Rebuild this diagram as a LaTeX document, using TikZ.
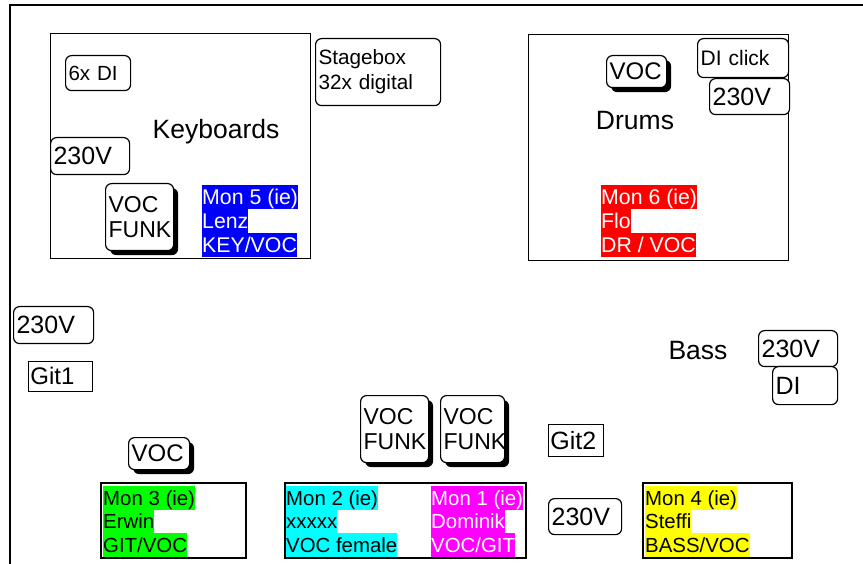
\documentclass[tikz,border=0pt]{standalone}
\usepackage{fontspec}
\setmainfont{Liberation Sans}
\usetikzlibrary{shadows}
\definecolor{cy}{RGB}{0,255,255}
\definecolor{mg}{RGB}{255,0,255}
\definecolor{gr}{RGB}{0,255,0}
\definecolor{ye}{RGB}{255,255,0}
\definecolor{bl}{RGB}{0,0,255}
\definecolor{rd}{RGB}{255,0,0}
\newcommand{\fsz}[1]{\fontsize{#1}{25}\selectfont}
\tikzset{
  rb/.style={draw, rounded corners=6pt, line width=1.2pt, inner xsep=3pt, inner ysep=0pt, anchor=north west, align=left, fill=white},
  sq/.style={draw, line width=0.7pt, inner xsep=2pt, inner ysep=0pt, anchor=north west, align=left},
  sh/.style={drop shadow={shadow xshift=4.5pt, shadow yshift=-4.5pt, fill=black, opacity=1}},
  area/.style={draw, line width=1.3pt, anchor=north west, inner sep=0pt},
  mon/.style={draw, line width=1.6pt, anchor=north west, inner sep=0pt},
  hl/.style={inner sep=0pt, anchor=north west, text height=19pt, text depth=5pt, font=\fsz{21.3}},
  hlb/.style={hl, font=\fsz{20.4}},
  lbl/.style={font=\fsz{26.5}},
}
\begin{document}
\begin{tikzpicture}[x=1pt, y=-1pt]
\useasboundingbox (0,0) rectangle (863,564);
% outer frame
\coordinate (fa) at (10,564);
\coordinate (fb) at (10,5);
\coordinate (fc) at (863,5);
\draw[line width=1.3pt] (fa) -- (fb) -- (fc);

% Keyboards area
\node[area, minimum width=260pt, minimum height=225pt] (kbd) at (50,33) {};
\node[lbl] (kbdl) at (216,132) {Keyboards};
\node[rb, text width=59pt, minimum height=35pt, font=\fsz{20.5}] (kdi) at (65,55) {6x DI};
\node[rb, text width=73pt, minimum height=37pt, font=\fsz{25}] (kpow) at (50,137) {230V};
\node[rb, sh, text width=62pt, minimum height=67pt, font=\fsz{23}] (kvoc) at (105,183) {VOC\\FUNK};
\node[hl, fill=bl, text=white] (m5a) at (202,185) {Mon 5 (ie)};
\node[hl, fill=bl, text=white] (m5b) at (202,209) {Lenz};
\node[hl, fill=bl, text=white] (m5c) at (202,233) {KEY/VOC};

% Stagebox
\node[rb, text width=119pt, minimum height=67pt, font=\fsz{20.7}] (stage) at (315,38) {Stagebox\\32x digital};

% Drums area
\node[area, minimum width=260pt, minimum height=226pt] (drm) at (528,34) {};
\node[lbl] (drml) at (635,121) {Drums};
\node[rb, sh, text width=54pt, minimum height=32pt, font=\fsz{24}] (dvoc) at (606,55) {VOC};
\node[rb, text width=85pt, minimum height=39pt, font=\fsz{21}] (ddi) at (697,38) {DI click};
\node[rb, text width=74pt, minimum height=36pt, font=\fsz{25}] (dpow) at (709,78) {230V};
\node[hl, fill=rd, text=white] (m6a) at (601,185) {Mon 6 (ie)};
\node[hl, fill=rd, text=white] (m6b) at (601,209) {Flo};
\node[hl, fill=rd, text=white] (m6c) at (601,233) {DR / VOC};

% left side
\node[rb, text width=74pt, minimum height=37pt, font=\fsz{25}] (lpow) at (13,306) {230V};
\node[sq, text width=60pt, minimum height=30pt, font=\fsz{24}] (git1) at (28,361) {Git1};
\node[rb, sh, text width=55pt, minimum height=32pt, font=\fsz{24}] (lvoc) at (128,437) {VOC};

% centre
\node[rb, sh, text width=62pt, minimum height=67pt, font=\fsz{23}] (cv1) at (360,395) {VOC\\FUNK};
\node[rb, sh, text width=58pt, minimum height=67pt, font=\fsz{23}] (cv2) at (440,395) {VOC\\FUNK};
\node[sq, text width=51pt, minimum height=32pt, font=\fsz{25}] (git2) at (548,424) {Git2};
\node[rb, text width=67pt, minimum height=36pt, font=\fsz{25}] (cpow) at (548,498) {230V};

% Bass
\node[lbl] (bassl) at (698,351) {Bass};
\node[rb, text width=73pt, minimum height=36pt, font=\fsz{25}] (bpow) at (758,330) {230V};
\node[rb, text width=59pt, minimum height=38pt, font=\fsz{25}] (bdi) at (772,366) {DI};

% monitors
\node[mon, minimum width=145pt, minimum height=75pt] (mon3) at (100,482) {};
\node[hlb, fill=gr] (m3a) at (103,486) {Mon 3 (ie)};
\node[hlb, fill=gr] (m3b) at (103,509) {Erwin};
\node[hlb, fill=gr] (m3c) at (103,533) {GIT/VOC};

\node[mon, minimum width=241pt, minimum height=75pt] (mon2) at (284,482) {};
\node[hlb, fill=cy] (m2a) at (286,486) {Mon 2 (ie)};
\node[hlb, fill=cy] (m2b) at (286,509) {xxxxx};
\node[hlb, fill=cy] (m2c) at (286,533) {VOC female};
\node[hlb, fill=mg, text=white] (m1a) at (431,486) {Mon 1 (ie)};
\node[hlb, fill=mg, text=white] (m1b) at (431,509) {Dominik};
\node[hlb, fill=mg, text=white] (m1c) at (431,533) {VOC/GIT};

\node[mon, minimum width=149pt, minimum height=75pt] (mon4) at (642,482) {};
\node[hlb, fill=ye] (m4a) at (645,486) {Mon 4 (ie)};
\node[hlb, fill=ye] (m4b) at (645,509) {Steffi};
\node[hlb, fill=ye] (m4c) at (645,533) {BASS/VOC};
\end{tikzpicture}
\end{document}
